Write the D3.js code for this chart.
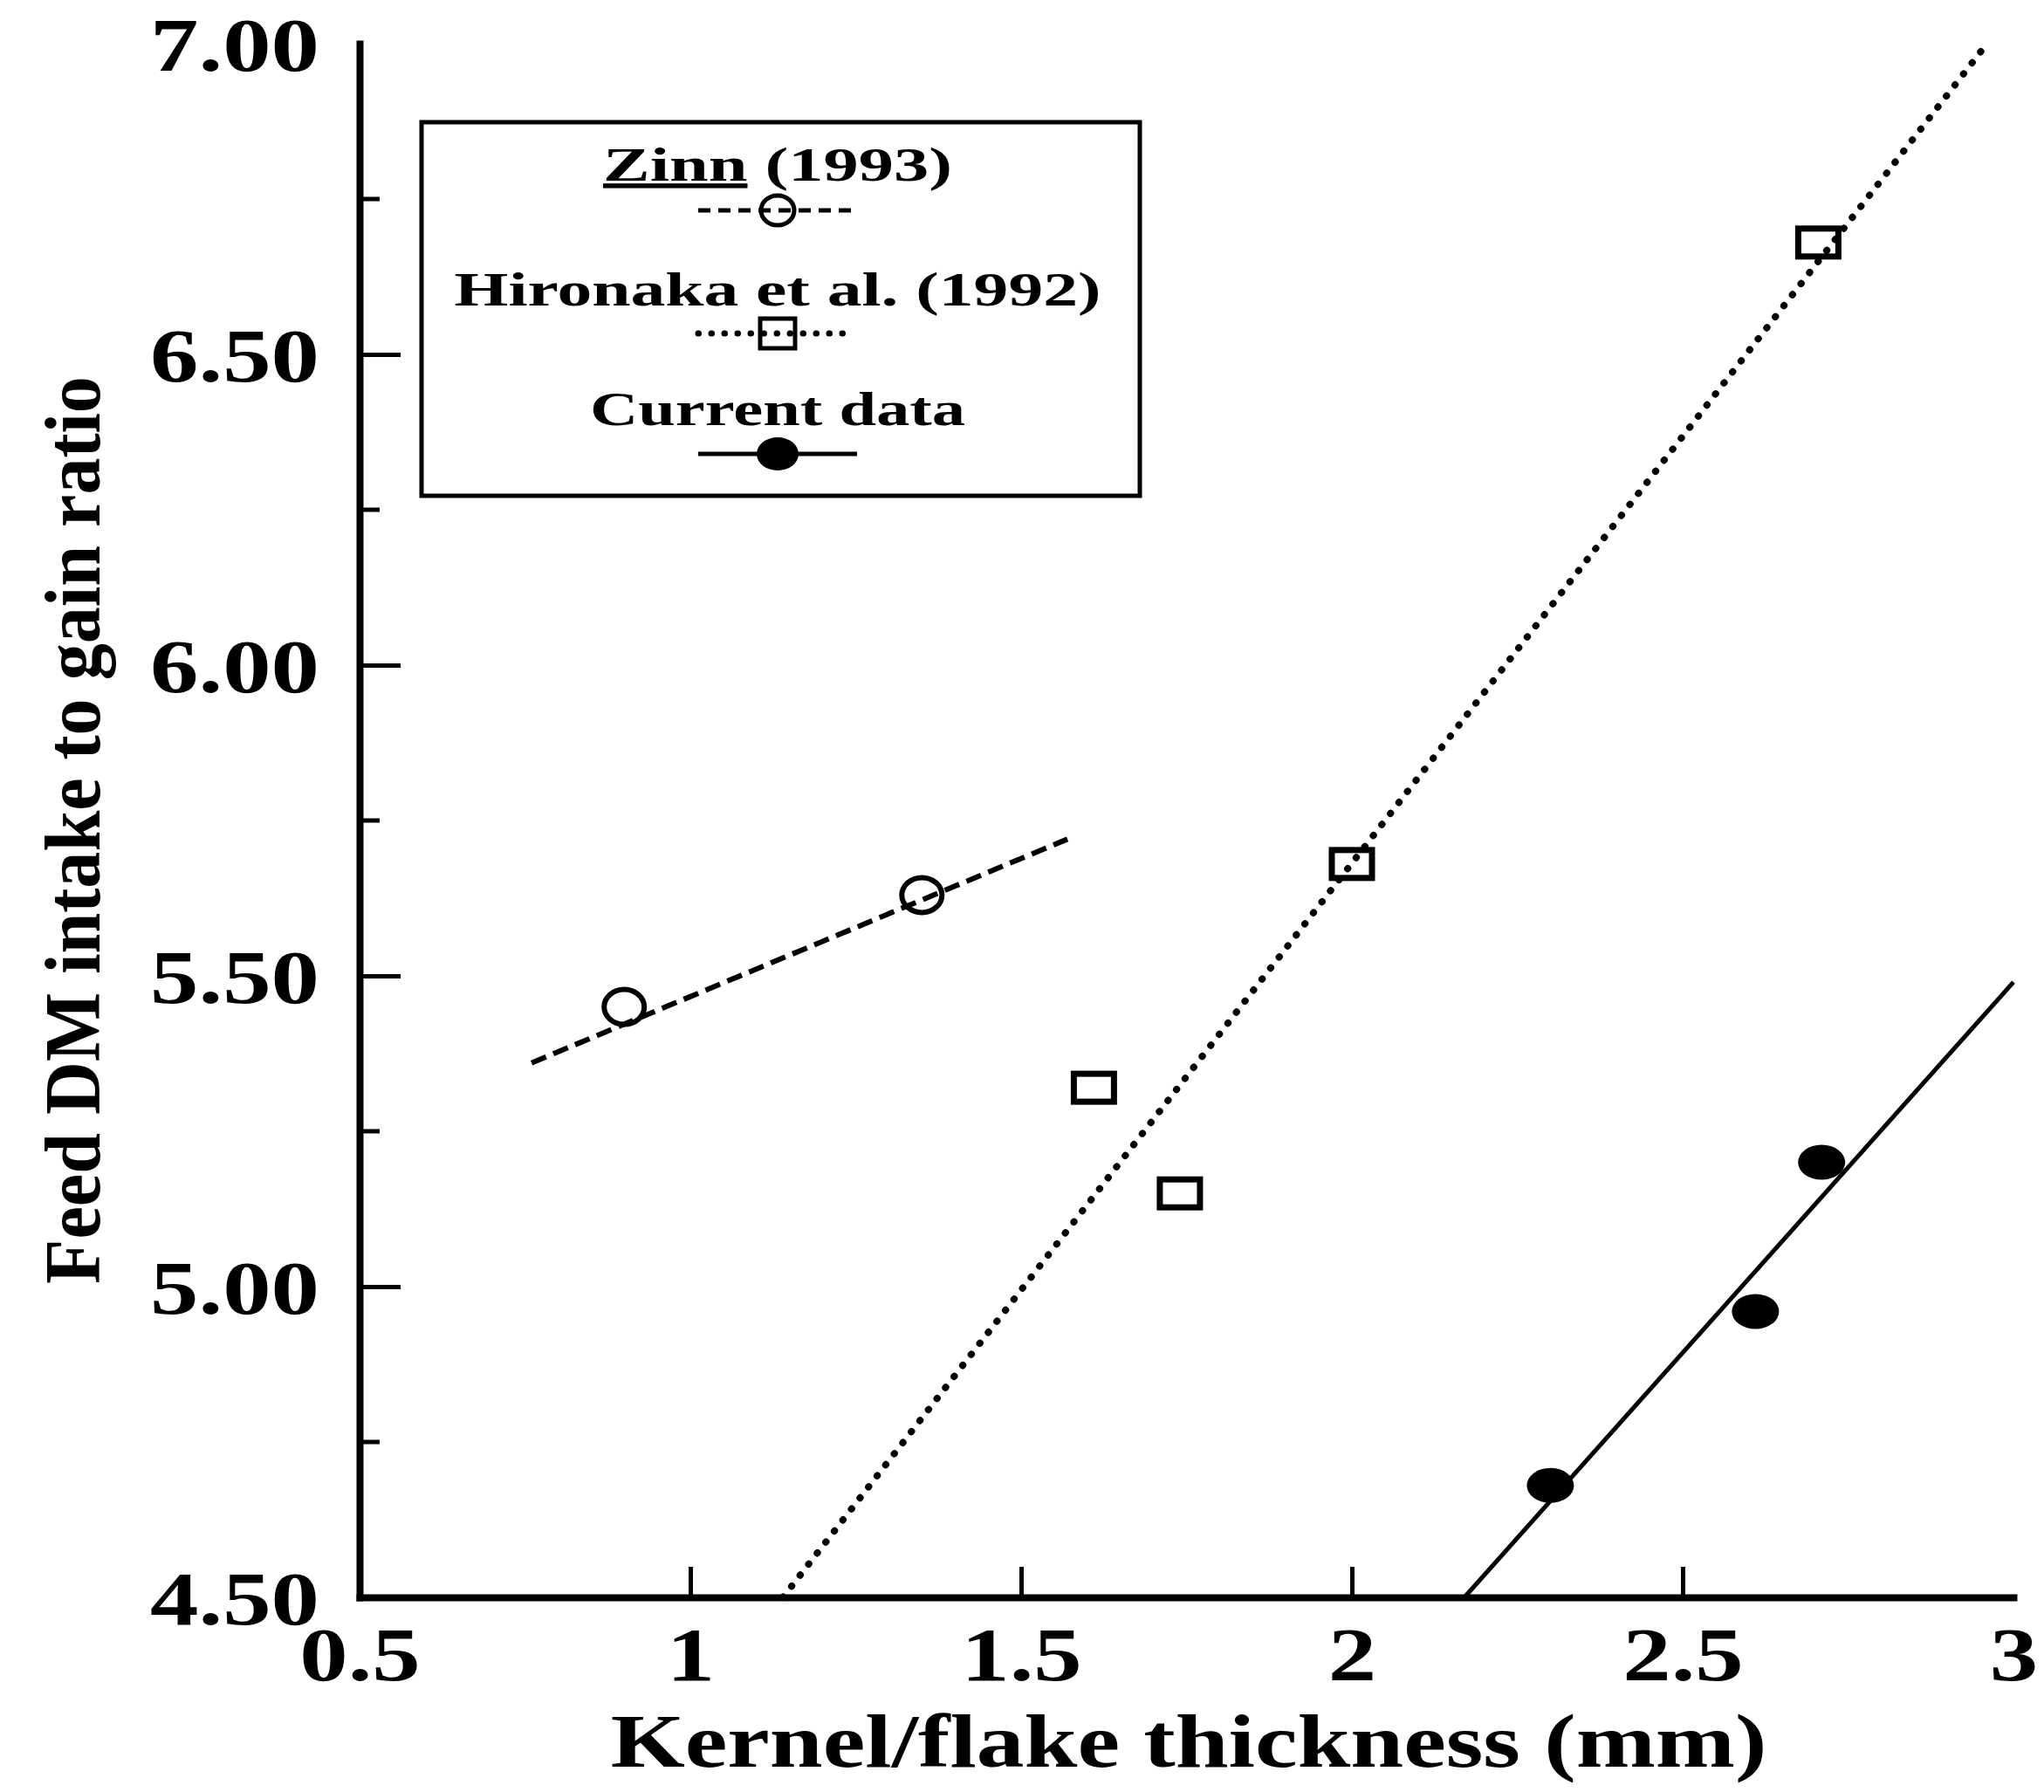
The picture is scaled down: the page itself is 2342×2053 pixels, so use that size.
<!DOCTYPE html>
<html>
<head>
<meta charset="utf-8">
<script src="https://cdn.jsdelivr.net/npm/d3@7"></script>
<style>
  html, body { margin: 0; padding: 0; background: #fff; }
  svg { display: block; }
  text { font-family: "Liberation Serif", "Times New Roman", "DejaVu Serif", serif; fill: #000; }
</style>
</head>
<body>
<script>
// values
const xTicks = [0.5, 1, 1.5, 2, 2.5, 3];
const xTickLabels = ['0.5', '1', '1.5', '2', '2.5', '3'];
const yTicks = [4.5, 5, 5.5, 6, 6.5, 7];
const yTickLabels = ['4.50', '5.00', '5.50', '6.00', '6.50', '7.00'];
const yMinorTicks = [4.75, 5.25, 5.75, 6.25, 6.75];

const seriesNames = ['Zinn (1993)', 'Hironaka et al. (1992)', 'Current data'];

const zinnPoints = [[0.90, 5.45], [1.35, 5.63]];
const zinnFit = [[0.76, 5.36], [1.57, 5.72]];

const hironakaPoints = [[1.61, 5.32], [1.74, 5.15], [2.00, 5.68], [2.705, 6.68]];
const hironakaFit = [[1.14, 4.50], [2.96, 7.00]];

const currentPoints = [[2.30, 4.68], [2.61, 4.96], [2.71, 5.20]];
const currentFit = [[2.17, 4.50], [3.00, 5.49]];

const xTitle = 'Kernel/flake thickness (mm)';
const yTitle = 'Feed DM intake to gain ratio';

const W = 2342, H = 2053;

const svg = d3.select('body').append('svg')
    .attr('width', W)
    .attr('height', H);

svg.append('rect').attr('width', W).attr('height', H).attr('fill', '#fff');

const x = d3.scaleLinear().domain([0.5, 3]).range([412, 2307]);
const y = d3.scaleLinear().domain([4.5, 7]).range([1830, 50]);

// stretch a text (in its own frame) so it spans `target` px
const fitWidth = (sel, target, heightScale) => {
    sel.each(function () {
        const t = d3.select(this);
        const natural = this.getComputedTextLength();
        const base = t.attr('data-base') || '';
        t.attr('transform', base + ` scale(${target / natural},${heightScale || 1})`);
    });
};

// axes
const yAxis = d3.axisLeft(y)
    .tickValues(yTicks)
    .tickFormat((d, i) => yTickLabels[i])
    .tickSizeInner(-47)
    .tickSizeOuter(0)
    .tickPadding(0);

const gy = svg.append('g').attr('transform', `translate(${x.range()[0]},0)`).call(yAxis);

const xAxis = d3.axisBottom(x)
    .tickValues(xTicks)
    .tickFormat((d, i) => xTickLabels[i])
    .tickSizeInner(-35)
    .tickSizeOuter(0)
    .tickPadding(0);

const gx = svg.append('g').attr('transform', `translate(0,${y.range()[0]})`).call(xAxis);

[gx, gy].forEach(g => {
    g.attr('font-family', null);
    g.select('.domain').attr('stroke', '#000').attr('stroke-width', 8).attr('stroke-linecap', 'square');
    g.selectAll('.tick line').attr('stroke', '#000').attr('stroke-width', 5);
    g.selectAll('.tick text')
        .attr('font-size', 86)
        .attr('font-weight', 'bold')
        .attr('fill', '#000');
});

// no tick marks at the two ends of each axis
gy.selectAll('.tick').filter(d => d === 4.5 || d === 7).select('line').remove();
gx.selectAll('.tick').filter(d => d === 0.5 || d === 3).select('line').remove();

// tick labels are stretched so that "7.00" is about 194px wide, as in the scan
const topLabel = gy.selectAll('.tick text').filter(d => d === 7).node();
const tickStretch = 194 / topLabel.getComputedTextLength();

gy.selectAll('.tick text')
    .attr('x', 0).attr('dy', '0.36em')
    .attr('text-anchor', 'end')
    .attr('transform', `translate(-46,0) scale(${tickStretch},1)`);

gx.selectAll('.tick text')
    .attr('y', 0).attr('dy', null)
    .attr('text-anchor', 'middle')
    .attr('transform', `translate(0,95) scale(${tickStretch},1)`);

// minor ticks on y
svg.append('g').selectAll('line')
    .data(yMinorTicks)
    .join('line')
    .attr('x1', x.range()[0])
    .attr('x2', x.range()[0] + 23)
    .attr('y1', d => y(d))
    .attr('y2', d => y(d))
    .attr('stroke', '#000')
    .attr('stroke-width', 5);

// axis titles
svg.append('text')
    .attr('data-base', 'translate(1362,2024)')
    .attr('text-anchor', 'middle')
    .attr('font-size', 86)
    .attr('font-weight', 'bold')
    .text(xTitle)
    .call(fitWidth, 1325);

svg.append('text')
    .attr('data-base', 'translate(114,951) rotate(-90)')
    .attr('text-anchor', 'middle')
    .attr('font-size', 86)
    .attr('font-weight', 'bold')
    .text(yTitle)
    .call(fitWidth, 1040, 1.05);

// fitted lines
const line = d3.line().x(d => x(d[0])).y(d => y(d[1]));

const plot = svg.append('g');

plot.append('path')
    .attr('d', line(zinnFit))
    .attr('fill', 'none')
    .attr('stroke', '#000')
    .attr('stroke-width', 6)
    .attr('stroke-dasharray', '18,9');

plot.append('path')
    .attr('d', line(hironakaFit))
    .attr('fill', 'none')
    .attr('stroke', '#000')
    .attr('stroke-width', 8)
    .attr('stroke-linecap', 'round')
    .attr('stroke-dasharray', '0.5,15.5');

plot.append('path')
    .attr('d', line(currentFit))
    .attr('fill', 'none')
    .attr('stroke', '#000')
    .attr('stroke-width', 5);

// markers
plot.append('g').selectAll('ellipse')
    .data(zinnPoints)
    .join('ellipse')
    .attr('cx', d => x(d[0]))
    .attr('cy', d => y(d[1]))
    .attr('rx', 23)
    .attr('ry', 20)
    .attr('fill', 'none')
    .attr('stroke', '#000')
    .attr('stroke-width', 6);

plot.append('g').selectAll('rect')
    .data(hironakaPoints)
    .join('rect')
    .attr('x', d => x(d[0]) - 23)
    .attr('y', d => y(d[1]) - 16)
    .attr('width', 46)
    .attr('height', 32)
    .attr('fill', 'none')
    .attr('stroke', '#000')
    .attr('stroke-width', 7);

plot.append('g').selectAll('ellipse')
    .data(currentPoints)
    .join('ellipse')
    .attr('cx', d => x(d[0]))
    .attr('cy', d => y(d[1]))
    .attr('rx', 27)
    .attr('ry', 20)
    .attr('fill', '#000');

// legend
const legend = svg.append('g');

legend.append('rect')
    .attr('x', 483)
    .attr('y', 140)
    .attr('width', 823)
    .attr('height', 428)
    .attr('fill', 'none')
    .attr('stroke', '#000')
    .attr('stroke-width', 5);

const legendCx = 891;
const legendTextY = [207, 350, 487];
const legendWidths = [400, 741, 430];
const legendSampleY = [241, 382, 520];

seriesNames.forEach((name, i) => {
    const t = legend.append('text')
        .attr('data-base', `translate(${legendCx},${legendTextY[i]})`)
        .attr('text-anchor', 'middle')
        .attr('font-size', 54)
        .attr('font-weight', 'bold');
    if (i === 0) {
        t.append('tspan').attr('text-decoration', 'underline').text('Zinn');
        t.append('tspan').text(name.slice(4));
    } else {
        t.text(name);
    }
    t.call(fitWidth, legendWidths[i]);
});

legend.append('line')
    .attr('x1', 800).attr('x2', 982)
    .attr('y1', legendSampleY[0]).attr('y2', legendSampleY[0])
    .attr('stroke', '#000').attr('stroke-width', 5)
    .attr('stroke-dasharray', '14,9');
legend.append('ellipse')
    .attr('cx', legendCx).attr('cy', legendSampleY[0])
    .attr('rx', 19).attr('ry', 17)
    .attr('fill', 'none').attr('stroke', '#000').attr('stroke-width', 5);

legend.append('line')
    .attr('x1', 800).attr('x2', 980)
    .attr('y1', legendSampleY[1]).attr('y2', legendSampleY[1])
    .attr('stroke', '#000').attr('stroke-width', 7)
    .attr('stroke-linecap', 'round')
    .attr('stroke-dasharray', '0.5,14.5');
legend.append('rect')
    .attr('x', legendCx - 20).attr('y', legendSampleY[1] - 17)
    .attr('width', 40).attr('height', 34)
    .attr('fill', 'none').attr('stroke', '#000').attr('stroke-width', 5);

legend.append('line')
    .attr('x1', 800).attr('x2', 982)
    .attr('y1', legendSampleY[2]).attr('y2', legendSampleY[2])
    .attr('stroke', '#000').attr('stroke-width', 5);
legend.append('ellipse')
    .attr('cx', legendCx).attr('cy', legendSampleY[2])
    .attr('rx', 24).attr('ry', 19)
    .attr('fill', '#000');
</script>
</body>
</html>
